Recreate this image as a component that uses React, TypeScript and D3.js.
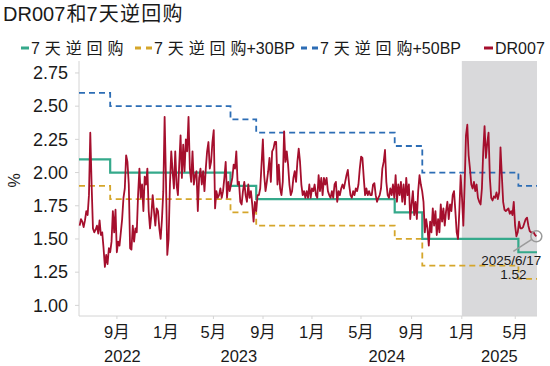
import React from 'react';
import * as d3 from 'd3';

// ---- data ----
const titleText = 'DR007和7天逆回购';
const legendLabels = ['7天逆回购', '7天逆回购+30BP', '7天逆回购+50BP', 'DR007'];
const yTicks = [1.0, 1.25, 1.5, 1.75, 2.0, 2.25, 2.5, 2.75];
const yearLabels = ['2022', '2023', '2024', '2025'];

// policy rate changes and the three step series (value i holds until change i)
const rateChangeDates = ['2022-08-15', '2023-06-13', '2023-08-15', '2024-07-22', '2024-09-27', '2025-05-08'];
const repo7d = [2.1, 2.0, 1.9, 1.8, 1.7, 1.5, 1.4];
const repoPlus30 = [1.9, 1.8, 1.7, 1.6, 1.5, 1.3, 1.2];
const repoPlus50 = [2.6, 2.5, 2.4, 2.3, 2.2, 2.0, 1.9];

// DR007 samples, in six stretches; each stretch is evenly spaced between its first and last date
const dr007Spans = [
  ['2022-05-30', '2022-12-17'],
  ['2022-12-19', '2023-07-01'],
  ['2023-07-03', '2024-01-11'],
  ['2024-01-14', '2024-07-19'],
  ['2024-07-21', '2025-01-24'],
  ['2025-01-26', '2025-06-17'],
];
const dr007Part1 = [
  1.60, 1.65, 1.63, 1.59, 1.64, 1.71, 1.68, 1.83, 2.30, 1.91, 1.58, 1.55, 1.57, 1.60, 1.54, 1.64,
  1.53, 1.55, 1.43, 1.29, 1.38, 1.31, 1.43, 1.40, 1.48, 1.71, 1.55, 1.72, 1.40, 1.48, 1.45, 1.55,
  1.65, 1.81, 1.88, 2.13, 2.08, 1.91, 1.43, 1.42, 1.60, 1.48, 1.58, 1.55, 1.83, 2.03, 1.81, 1.91,
  1.71, 1.97, 1.91, 2.03, 1.71, 1.58, 1.68, 1.83, 1.71, 1.60, 1.73, 1.71, 1.58,
];
const dr007Part2 = [
  1.50, 1.65, 1.86, 2.42, 1.95, 1.38, 1.50, 1.91, 2.16, 2.01, 1.88, 2.16, 1.91, 1.83, 2.06, 2.28,
  1.96, 2.21, 2.01, 2.25, 2.16, 2.42, 2.03, 1.93, 2.16, 1.91, 1.98, 2.01, 1.71, 1.96, 2.03, 1.91,
  2.01, 1.86, 2.03, 2.16, 2.23, 2.03, 2.08, 2.23, 2.32, 1.73, 1.86, 1.81, 1.83, 1.88, 1.81, 1.86,
  1.96, 2.08, 1.81, 1.93, 1.86, 1.91, 1.96, 2.06, 2.03, 2.16, 1.91,
];
const dr007Part3 = [
  1.93, 1.78, 1.76, 1.86, 1.93, 1.83, 1.78, 1.91, 1.81, 1.86, 1.76, 1.63, 1.78, 1.71, 1.83, 1.83,
  1.88, 2.06, 2.25, 1.98, 1.86, 1.93, 2.01, 2.11, 1.93, 2.16, 2.18, 2.23, 2.23, 1.91, 2.06, 1.88,
  1.83, 1.93, 2.31, 2.08, 2.16, 2.06, 1.91, 1.83, 1.86, 1.96, 2.01, 1.93, 2.08, 2.18, 2.08, 1.91,
  1.83, 1.86, 1.81, 1.86, 1.81, 1.91, 1.81, 1.88, 1.86, 1.91, 1.83,
];
const dr007Part4 = [
  1.81, 1.98, 1.86, 1.96, 1.83, 1.96, 1.91, 1.96, 1.86, 1.83, 1.81, 1.86, 1.81, 1.91, 1.93, 1.78,
  1.86, 1.83, 1.88, 1.91, 1.88, 1.93, 1.98, 2.02, 1.91, 1.83, 1.81, 1.86, 1.83, 1.88, 1.86, 1.91,
  2.03, 2.12, 2.11, 1.96, 1.83, 1.88, 1.83, 1.86, 1.83, 1.83, 1.91, 1.92, 1.83, 1.78, 1.81, 1.83,
  1.88, 2.03, 2.08, 2.17, 1.93, 1.83, 1.81, 1.88, 1.83, 1.91,
];
const dr007Part5 = [
  1.81, 1.98, 1.78, 1.91, 1.83, 1.93, 1.78, 1.91, 1.76, 1.96, 1.83, 1.91, 1.65, 1.76, 1.86, 1.68,
  1.78, 1.65, 1.86, 1.98, 1.91, 1.86, 1.78, 1.55, 1.65, 1.58, 1.45, 1.63, 1.55, 1.73, 1.60, 1.71,
  1.53, 1.65, 1.55, 1.76, 1.63, 1.73, 1.60, 1.71, 1.78, 1.65, 1.76, 1.71, 1.83, 1.86, 1.71, 1.55,
  1.50, 1.71, 1.98, 1.81, 1.60, 1.91, 2.28, 2.36, 2.13, 2.03, 1.91,
];
const dr007Part6 = [
  1.88, 1.93, 1.86, 1.91, 1.81, 1.78, 1.76, 1.88, 2.16, 2.35, 2.11, 2.22, 2.30, 1.96, 1.81, 1.79,
  1.82, 1.81, 1.85, 1.80, 1.85, 2.19, 1.98, 1.78, 1.72, 1.71, 1.72, 1.73, 1.69, 1.71, 1.68, 1.78,
  1.60, 1.52, 1.55, 1.63, 1.58, 1.58, 1.59, 1.62, 1.65, 1.66, 1.60, 1.56, 1.55, 1.55, 1.55, 1.53,
  1.52,
];
const shadeStart = '2025-01-01';

// ---- chart ----
const width = 550;
const height = 366;
const margin = { top: 61, right: 13, bottom: 50, left: 79 };

const colors = {
  repo: '#35a98b',
  plus30: '#d5a62b',
  plus50: '#2c6db5',
  dr007: '#a50f2d',
  shade: '#d9d9db',
  axis: '#d4d4d4',
  text: '#1a1a1a',
};

const latin = '"Liberation Sans", Arial, "Noto Sans CJK SC", sans-serif';
const parse = (s: string) => d3.timeParse('%Y-%m-%d')(s) as Date;

type Pt = { date: Date; value: number };

function stepSeries(values: number[], start: Date, end: Date): Pt[] {
  const pts: Pt[] = [{ date: start, value: values[0] }];
  rateChangeDates.forEach((d, i) => pts.push({ date: parse(d), value: values[i + 1] }));
  pts.push({ date: end, value: values[values.length - 1] });
  return pts;
}

const isCJK = (ch: string) => /[\u3000-\u9fff]/.test(ch);

// the source font sets CJK glyphs wide apart: add space before every CJK character
function Mixed({ text, gap }: { text: string; gap: number }) {
  const chars = Array.from(text);
  const runs: { s: string; sp: number }[] = [];
  chars.forEach((ch, i) => {
    const sp = i + 1 < chars.length && isCJK(chars[i + 1]) ? gap : 0;
    const last = runs[runs.length - 1];
    if (last && last.sp === sp) last.s += ch;
    else runs.push({ s: ch, sp });
  });
  return (
    <>
      {runs.map((r, i) => (
        <tspan key={i} style={{ letterSpacing: r.sp }}>{r.s}</tspan>
      ))}
    </>
  );
}

export default function App() {
  const parts = [dr007Part1, dr007Part2, dr007Part3, dr007Part4, dr007Part5, dr007Part6];
  const dr007: Pt[] = parts.flatMap((vals, k) => {
    const a = parse(dr007Spans[k][0]).getTime();
    const b = parse(dr007Spans[k][1]).getTime();
    return vals.map((v, i) => ({ date: new Date(a + ((b - a) * i) / (vals.length - 1)), value: v }));
  });
  const n = dr007.length;

  const plotTop = margin.top;
  const plotBottom = height - margin.bottom;
  const plotLeft = margin.left;
  const plotRight = width - margin.right;

  // the source uses an observation (category) axis: each sample gets an equal slot
  const xIndex = d3.scaleLinear().domain([-0.5, n - 0.5]).range([plotLeft, plotRight]);
  const x = d3.scaleTime()
    .domain(dr007.map((d) => d.date))
    .range(dr007.map((_, i) => xIndex(i)));
  const x0 = x.invert(plotLeft);
  const x1 = x.invert(plotRight);
  const y = d3.scaleLinear().domain([0.92, 2.84]).range([plotBottom, plotTop]);

  const step = d3.line<Pt>().x((d) => x(d.date)).y((d) => y(d.value)).curve(d3.curveStepAfter);
  const line = d3.line<Pt>().x((d) => x(d.date)).y((d) => y(d.value));

  const monthTicks = (d3.timeMonth.every(4) as d3.TimeInterval).range(x0, x1);
  const fmt = d3.format('.2f');

  const last = dr007[n - 1];
  const lx = x(last.date);
  const ly = y(last.value);
  const xShade = x(parse(shadeStart));

  const legendItems = [
    { label: legendLabels[0], color: colors.repo, dash: null, x: 21, w: 8, tx: 31 },
    { label: legendLabels[1], color: colors.plus30, dash: '6,5', x: 135, w: 17, tx: 154 },
    { label: legendLabels[2], color: colors.plus50, dash: '6,5', x: 301, w: 17, tx: 320 },
    { label: legendLabels[3], color: colors.dr007, dash: null, x: 484, w: 9, tx: 495 },
  ];

  return (
    <svg width={width} height={height} style={{ position: 'absolute', left: 0, top: 0, background: '#fff' }}>
      {/* title */}
      <text x={3} y={21} fontSize={20} fill={colors.text} fontFamily={latin}>
        <Mixed text={titleText} gap={1.2} />
      </text>

      {/* legend */}
      {legendItems.map((it) => (
        <g key={it.label}>
          <line x1={it.x} x2={it.x + it.w} y1={48} y2={48} stroke={it.color} strokeWidth={3}
            strokeDasharray={it.dash || undefined} />
          <text x={it.tx} y={53.5} fontSize={16} fill={colors.text} fontFamily={latin}>
            <Mixed text={it.label} gap={4.9} />
          </text>
        </g>
      ))}

      {/* 2025 shading */}
      <rect x={xShade} y={plotTop} width={plotRight - xShade} height={plotBottom - plotTop} fill={colors.shade} />

      {/* axes */}
      <line x1={plotLeft} x2={plotLeft} y1={plotTop} y2={plotBottom} stroke={colors.axis} />
      <line x1={plotLeft} x2={plotRight} y1={plotBottom} y2={plotBottom} stroke={colors.axis} />
      {yTicks.map((t) => (
        <g key={t}>
          <line x1={plotLeft - 4} x2={plotLeft} y1={y(t)} y2={y(t)} stroke={colors.axis} />
          <text x={68} y={y(t)} dy="0.35em" textAnchor="end" fontSize={18} fill={colors.text} fontFamily={latin}>
            {fmt(t)}
          </text>
        </g>
      ))}
      <text transform={`translate(20,${(plotTop + plotBottom) / 2 - 8}) rotate(-90)`} textAnchor="middle"
        fontSize={16} fill={colors.text} fontFamily={latin}>%</text>

      {monthTicks.map((d) => (
        <g key={d.getTime()}>
          <line x1={x(d)} x2={x(d)} y1={plotBottom} y2={plotBottom + 3} stroke={colors.axis} />
          <text x={x(d)} y={338} textAnchor="middle" fontSize={16.5} fill={colors.text} fontFamily={latin}>
            {`${d.getMonth() + 1}月`}
          </text>
        </g>
      ))}
      {yearLabels.map((yr) => {
        const a = Math.max(x(parse(`${yr}-01-01`)), plotLeft);
        const b = Math.min(x(parse(`${+yr + 1}-01-01`)), plotRight);
        return (
          <text key={yr} x={(a + b) / 2} y={362} textAnchor="middle" fontSize={16.5} fill={colors.text}
            fontFamily={latin}>{yr}</text>
        );
      })}

      {/* series */}
      <path d={step(stepSeries(repoPlus30, x0, x1)) || ''} fill="none" stroke={colors.plus30}
        strokeWidth={1.8} strokeDasharray="6,4" />
      <path d={step(stepSeries(repoPlus50, x0, x1)) || ''} fill="none" stroke={colors.plus50}
        strokeWidth={1.8} strokeDasharray="6,4" />
      <path d={step(stepSeries(repo7d, x0, x1)) || ''} fill="none" stroke={colors.repo} strokeWidth={2.2} />
      <path d={line(dr007) || ''} fill="none" stroke={colors.dr007} strokeWidth={1.8} strokeLinejoin="round" />

      {/* last point annotation */}
      <circle cx={lx} cy={ly} r={5.5} fill="none" stroke="#9a9a9a" strokeWidth={1.5} />
      <line x1={lx - 4.6} y1={ly + 3} x2={lx - 23} y2={ly + 15} stroke="#9a9a9a" strokeWidth={1.5} />
      <text x={lx - 25} y={ly + 29} textAnchor="middle" fontSize={13.5} fill={colors.text} fontFamily={latin}>
        {d3.timeFormat('%Y/%-m/%-d')(last.date)}
      </text>
      <text x={lx - 23} y={ly + 43} textAnchor="middle" fontSize={13.5} fill={colors.text} fontFamily={latin}>
        {fmt(last.value)}
      </text>
    </svg>
  );
}
